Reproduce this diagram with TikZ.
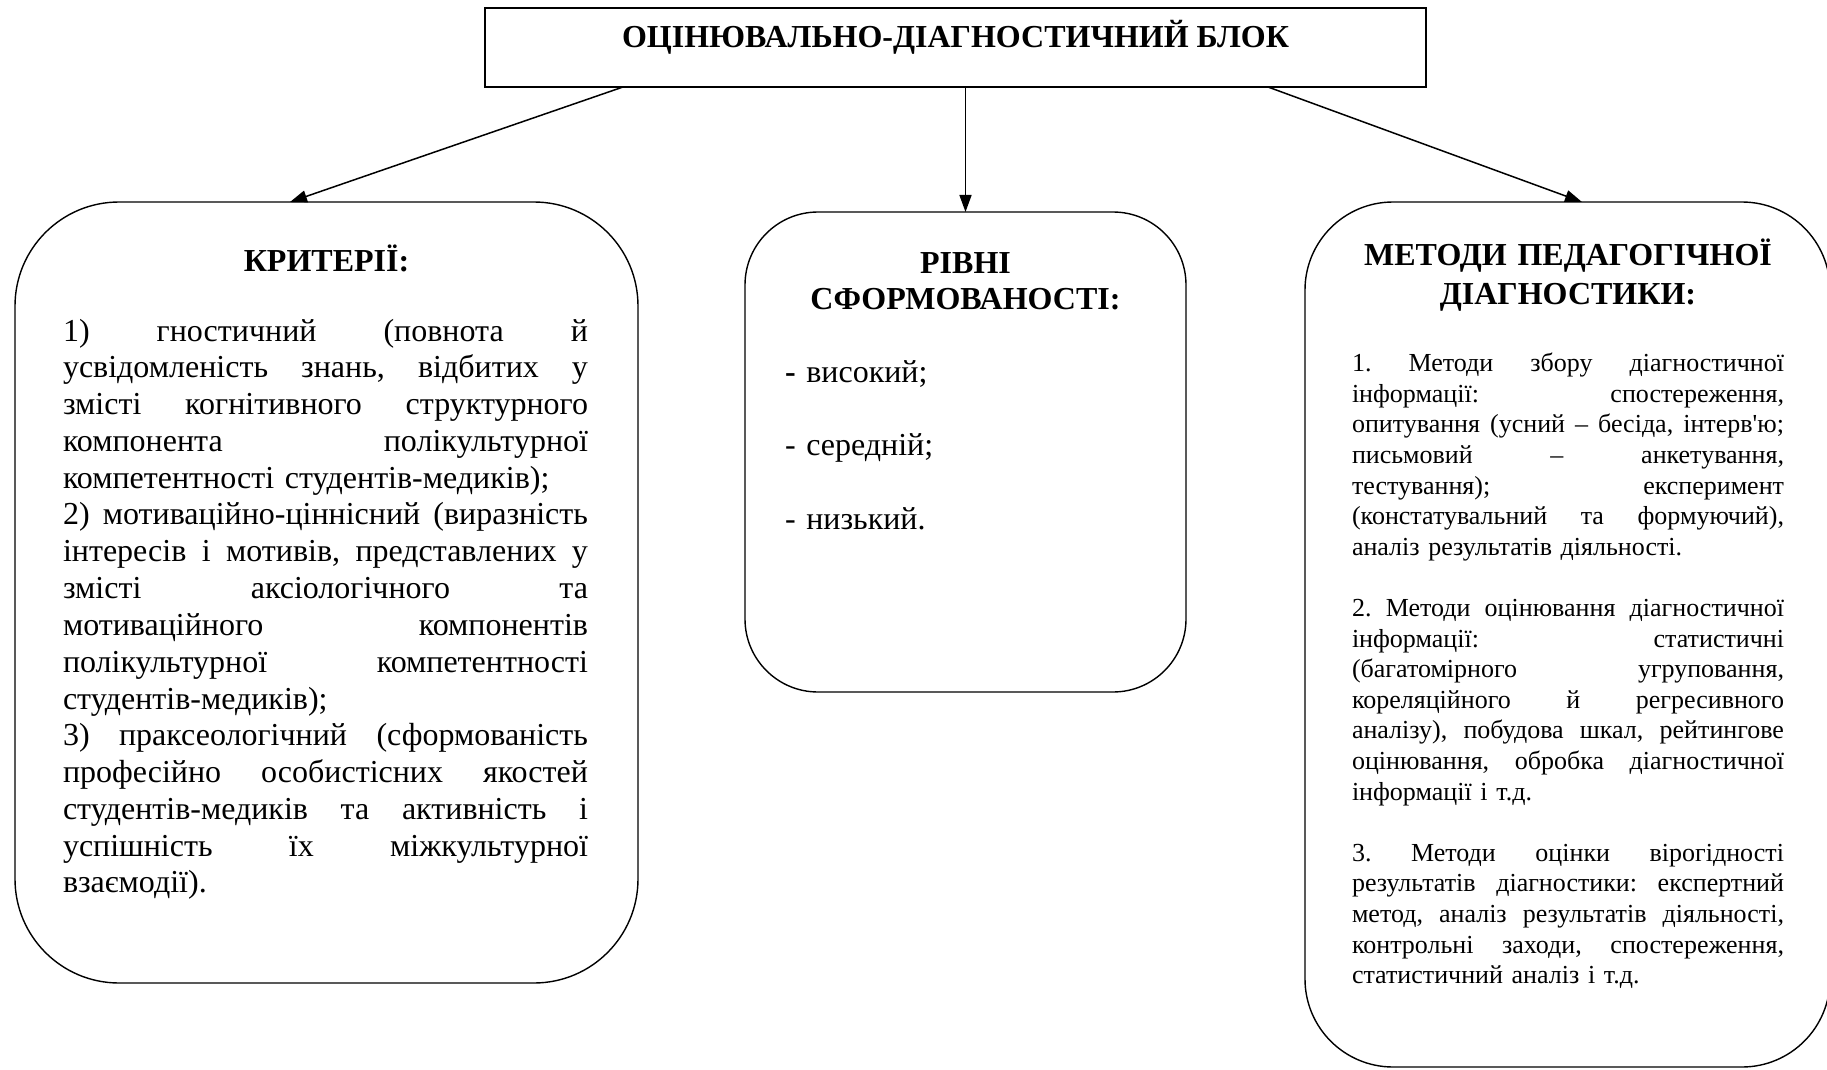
\documentclass[tikz,border=0pt]{standalone}
\usepackage{fontspec}
\newfontfamily\tnr{Liberation Serif}
\usetikzlibrary{arrows.meta}
\setlength\parindent{0pt}
\frenchspacing
\newcommand{\jw}{100pt}
\newcommand{\jl}[1]{\leavevmode\hbox to \jw{\frenchspacing\spaceskip=.25em plus 1fil minus .08em\relax #1}}
\begin{document}
\begin{tikzpicture}[x=0.5pt,y=-0.5pt,
  every node/.style={font=\tnr, inner sep=0pt, outer sep=0pt},
  topbox/.style={draw, line width=0.8pt},
  rbox/.style={draw, line width=0.7pt},
  arr/.style={line width=0.75pt, -{Triangle[length=8.5pt,width=6pt]}},
  titletext/.style={font=\tnr\bfseries\fontsize{16}{18.4}\selectfont, anchor=base},
  headtext/.style={font=\tnr\bfseries\fontsize{16}{18.4}\selectfont, align=center, anchor=base, text width=240pt},
  bigbody/.style={font=\tnr\fontsize{16}{18.4}\selectfont, align=left, anchor=base west},
  smallbody/.style={font=\tnr\fontsize{13}{15.3}\selectfont, align=left, anchor=base west}]
\useasboundingbox (0,0) rectangle (1827,1070);
\clip (0,0) rectangle (1827,1070);

% boxes
\node[topbox, minimum width=470.5pt, minimum height=39.5pt] (top) at (955.5,47.5) {};
\node[rbox, rounded corners=52pt, minimum width=311.5pt, minimum height=390.5pt] (crit) at (326.5,592.5) {};
\node[rbox, rounded corners=36.5pt, minimum width=220.5pt, minimum height=240pt] (lev) at (965.5,452) {};
\node[rbox, rounded corners=44pt, minimum width=262.5pt, minimum height=432.5pt] (meth) at (1567.5,634.5) {};

% texts
\node[titletext] (title) at (955.5,48) {ОЦІНЮВАЛЬНО-ДІАГНОСТИЧНИЙ БЛОК};

\node[headtext] (crithead) at (326.5,271) {КРИТЕРІЇ:};
\node[bigbody, text width=262.5pt] (critbody) at (63,341) {\renewcommand{\jw}{262.5pt}%
\jl{1) гностичний (повнота й}\\
\jl{усвідомленість знань, відбитих у}\\
\jl{змісті когнітивного структурного}\\
\jl{компонента полікультурної}\\
компетентності студентів-медиків);\\
\jl{2) мотиваційно-ціннісний (виразність}\\
\jl{інтересів і мотивів, представлених у}\\
\jl{змісті аксіологічного та}\\
\jl{мотиваційного компонентів}\\
\jl{полікультурної компетентності}\\
студентів-медиків);\\
\jl{3) праксеологічний (сформованість}\\
\jl{професійно особистісних якостей}\\
\jl{студентів-медиків та активність і}\\
\jl{успішність їх міжкультурної}\\
взаємодії).};

\node[headtext] (levhead) at (965.5,273) {РІВНІ\\СФОРМОВАНОСТІ:};
\node[bigbody, text width=160pt] (levbody) at (785,382) {\textbf{-} високий;\\[18.4pt]- середній;\\[18.4pt]- низький.};

\node[headtext, font=\tnr\bfseries\fontsize{16}{19.5}\selectfont] (methhead) at (1568,265) {МЕТОДИ ПЕДАГОГІЧНОЇ\\ДІАГНОСТИКИ:};
\node[smallbody, text width=216pt] (methbody) at (1352,371.7) {\renewcommand{\jw}{216pt}%
\jl{1. Методи збору діагностичної}\\
\jl{інформації: спостереження,}\\
\jl{опитування (усний – бесіда, інтерв'ю;}\\
\jl{письмовий – анкетування,}\\
\jl{тестування); експеримент}\\
\jl{(констатувальний та формуючий),}\\
аналіз результатів діяльності.\\[15.3pt]
\jl{2. Методи оцінювання діагностичної}\\
\jl{інформації: статистичні}\\
\jl{(багатомірного угруповання,}\\
\jl{кореляційного й регресивного}\\
\jl{аналізу), побудова шкал, рейтингове}\\
\jl{оцінювання, обробка діагностичної}\\
інформації і т.д.\\[15.3pt]
\jl{3. Методи оцінки вірогідності}\\
\jl{результатів діагностики: експертний}\\
\jl{метод, аналіз результатів діяльності,}\\
\jl{контрольні заходи, спостереження,}\\
статистичний аналіз і т.д.};

% connectors
\draw[arr] ([xshift=69pt]top.south west) -- ([xshift=137.5pt]crit.north west);
\draw[arr] (lev.north |- top.south) -- (lev.north);
\draw[arr] ([xshift=391.5pt]top.south west) -- ([xshift=138.5pt]meth.north west);
\end{tikzpicture}
\end{document}
